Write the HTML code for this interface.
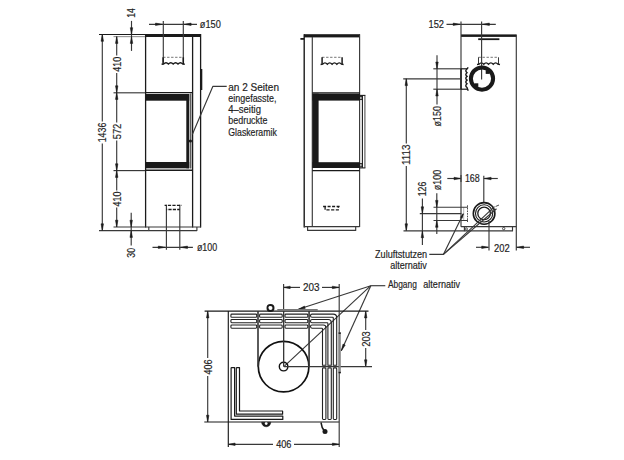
<!DOCTYPE html>
<html><head><meta charset="utf-8"><style>
html,body{margin:0;padding:0;background:#fff;}
svg{display:block;}
text{font-family:"Liberation Sans",sans-serif;fill:#1e1e1e;stroke:#1e1e1e;stroke-width:0.18px;}
</style></head><body>
<svg width="624" height="460" viewBox="0 0 624 460">
<rect width="624" height="460" fill="#fff"/>
<rect x="145" y="34" width="55.7" height="3.0" fill="#1a1a1a"/>
<line x1="145.6" y1="34" x2="145.6" y2="227.5" stroke="#1a1a1a" stroke-width="1.3" />
<line x1="192.6" y1="37" x2="192.6" y2="227.5" stroke="#1a1a1a" stroke-width="1.3" />
<line x1="200.6" y1="34" x2="200.6" y2="227.5" stroke="#1a1a1a" stroke-width="1.3" />
<line x1="113.5" y1="227" x2="201" y2="227" stroke="#383838" stroke-width="1.15" />
<polyline points="148.8,227 148.8,230.6 196.9,230.6 196.9,227" stroke="#383838" stroke-width="1.15" fill="none" stroke-linejoin="round" />
<line x1="99" y1="230.6" x2="148.8" y2="230.6" stroke="#383838" stroke-width="1.15" />
<line x1="99" y1="34.5" x2="145" y2="34.5" stroke="#1a1a1a" stroke-width="1.15" />
<line x1="113.5" y1="36.6" x2="145" y2="36.6" stroke="#999" stroke-width="1.15" />
<line x1="113.5" y1="92.8" x2="145" y2="92.8" stroke="#383838" stroke-width="1.15" />
<line x1="145" y1="92.6" x2="192.5" y2="92.6" stroke="#1a1a1a" stroke-width="1.4" />
<rect x="145.5" y="94.0" width="43.7" height="6.7" fill="#1a1a1a"/>
<rect x="186.3" y="94.0" width="3.0" height="74.3" fill="#1a1a1a"/>
<rect x="145.5" y="162" width="43.7" height="6.3" fill="#1a1a1a"/>
<line x1="113.5" y1="170.6" x2="145" y2="170.6" stroke="#383838" stroke-width="1.15" />
<line x1="145" y1="170.2" x2="192.5" y2="170.2" stroke="#1a1a1a" stroke-width="1.4" />
<line x1="190.8" y1="93.5" x2="190.8" y2="168.5" stroke="#1a1a1a" stroke-width="1.0" />
<circle cx="190.4" cy="141" r="1.6" stroke="#383838" stroke-width="0" fill="#1a1a1a"/>
<rect x="200.6" y="69" width="1.7" height="21" fill="#1a1a1a"/>
<line x1="163.3" y1="21" x2="163.3" y2="62.5" stroke="#383838" stroke-width="1.15" />
<line x1="183.3" y1="21" x2="183.3" y2="62.5" stroke="#383838" stroke-width="1.15" />
<line x1="149" y1="24.3" x2="197" y2="24.3" stroke="#383838" stroke-width="1.15" />
<polygon points="162.3,24.3 155.50,25.55 155.50,23.05" fill="#1a1a1a" stroke="#1a1a1a" stroke-width="0.5"/>
<polygon points="184.3,24.3 191.10,23.05 191.10,25.55" fill="#1a1a1a" stroke="#1a1a1a" stroke-width="0.5"/>
<text x="199.8" y="28.1" font-size="10.5" text-anchor="start" textLength="21" lengthAdjust="spacingAndGlyphs" >ø150</text>
<line x1="163.1" y1="57.3" x2="183.3" y2="57.3" stroke="#666" stroke-width="0.9" stroke-dasharray="2.4,1.6"/>
<line x1="163.1" y1="57.3" x2="163.1" y2="64" stroke="#1a1a1a" stroke-width="1.5" />
<line x1="183.3" y1="57.3" x2="183.3" y2="64" stroke="#1a1a1a" stroke-width="1.5" />
<path d="M161.6,64.3 L163.6,64 Q166.0,61.4 168.4,64 Q170.8,61.4 173.20000000000002,64 Q175.6,61.4 178.0,64 Q180.4,61.4 182.8,64 L184.8,64.3" stroke="#1a1a1a" stroke-width="1.4" fill="none" />
<line x1="166.4" y1="204.8" x2="166.4" y2="249.7" stroke="#383838" stroke-width="1.15" />
<line x1="179.8" y1="204.8" x2="179.8" y2="249.7" stroke="#383838" stroke-width="1.15" />
<line x1="164.6" y1="205.4" x2="181.8" y2="205.4" stroke="#1a1a1a" stroke-width="1.3" stroke-dasharray="2,1.3,3.2,1.3,3.2,1.3,3.2,1.3"/>
<line x1="166.4" y1="209.5" x2="179.8" y2="209.5" stroke="#1a1a1a" stroke-width="1.3" stroke-dasharray="0.8,1.2,3.2,1.2,3.2,1.2,3.2"/>
<line x1="152.5" y1="247.3" x2="192.9" y2="247.3" stroke="#383838" stroke-width="1.15" />
<polygon points="165.1,247.3 158.30,248.55 158.30,246.05" fill="#1a1a1a" stroke="#1a1a1a" stroke-width="0.5"/>
<polygon points="180.7,247.3 187.50,246.05 187.50,248.55" fill="#1a1a1a" stroke="#1a1a1a" stroke-width="0.5"/>
<text x="196.9" y="251.1" font-size="10.5" text-anchor="start" textLength="20.3" lengthAdjust="spacingAndGlyphs" >ø100</text>
<polyline points="226.7,86.4 212.8,86.4 192.3,134.5" stroke="#383838" stroke-width="1.15" fill="none" stroke-linejoin="round" />
<text x="228.3" y="91.1" font-size="10.4" text-anchor="start" textLength="50.7" lengthAdjust="spacingAndGlyphs" >an 2 Seiten</text>
<text x="228.3" y="102.19999999999999" font-size="10.4" text-anchor="start" textLength="48.2" lengthAdjust="spacingAndGlyphs" >eingefasste,</text>
<text x="228.3" y="113.3" font-size="10.4" text-anchor="start" textLength="32.7" lengthAdjust="spacingAndGlyphs" >4–seitig</text>
<text x="228.3" y="124.39999999999999" font-size="10.4" text-anchor="start" textLength="39.2" lengthAdjust="spacingAndGlyphs" >bedruckte</text>
<text x="228.3" y="135.5" font-size="10.4" text-anchor="start" textLength="48.5" lengthAdjust="spacingAndGlyphs" >Glaskeramik</text>
<line x1="102.3" y1="34.5" x2="102.3" y2="121.5" stroke="#383838" stroke-width="1.15" />
<line x1="102.3" y1="143.5" x2="102.3" y2="230.6" stroke="#383838" stroke-width="1.15" />
<polygon points="102.3,34.5 103.55,41.30 101.05,41.30" fill="#1a1a1a" stroke="#1a1a1a" stroke-width="0.5"/>
<polygon points="102.3,230.6 101.05,223.80 103.55,223.80" fill="#1a1a1a" stroke="#1a1a1a" stroke-width="0.5"/>
<text x="106.1" y="132.5" font-size="10.5" text-anchor="middle" textLength="19.6" lengthAdjust="spacingAndGlyphs" transform="rotate(-90 106.1 132.5)" >1436</text>
<line x1="116.7" y1="36.6" x2="116.7" y2="55.5" stroke="#383838" stroke-width="1.15" />
<line x1="116.7" y1="73" x2="116.7" y2="122.5" stroke="#383838" stroke-width="1.15" />
<line x1="116.7" y1="140.5" x2="116.7" y2="190.5" stroke="#383838" stroke-width="1.15" />
<line x1="116.7" y1="207.5" x2="116.7" y2="227" stroke="#383838" stroke-width="1.15" />
<polygon points="116.7,36.6 117.95,43.40 115.45,43.40" fill="#1a1a1a" stroke="#1a1a1a" stroke-width="0.5"/>
<polygon points="116.7,92.6 115.45,85.80 117.95,85.80" fill="#1a1a1a" stroke="#1a1a1a" stroke-width="0.5"/>
<polygon points="116.7,92.6 117.95,99.40 115.45,99.40" fill="#1a1a1a" stroke="#1a1a1a" stroke-width="0.5"/>
<polygon points="116.7,170.6 115.45,163.80 117.95,163.80" fill="#1a1a1a" stroke="#1a1a1a" stroke-width="0.5"/>
<polygon points="116.7,170.6 117.95,177.40 115.45,177.40" fill="#1a1a1a" stroke="#1a1a1a" stroke-width="0.5"/>
<polygon points="116.7,227 115.45,220.20 117.95,220.20" fill="#1a1a1a" stroke="#1a1a1a" stroke-width="0.5"/>
<text x="120.6" y="64.3" font-size="10.5" text-anchor="middle" textLength="15" lengthAdjust="spacingAndGlyphs" transform="rotate(-90 120.6 64.3)" >410</text>
<text x="120.6" y="131.5" font-size="10.5" text-anchor="middle" textLength="15.5" lengthAdjust="spacingAndGlyphs" transform="rotate(-90 120.6 131.5)" >572</text>
<text x="120.6" y="199" font-size="10.5" text-anchor="middle" textLength="15" lengthAdjust="spacingAndGlyphs" transform="rotate(-90 120.6 199)" >410</text>
<line x1="131.5" y1="20.9" x2="131.5" y2="50.9" stroke="#383838" stroke-width="1.15" />
<polygon points="131.5,34.5 130.25,27.70 132.75,27.70" fill="#1a1a1a" stroke="#1a1a1a" stroke-width="0.5"/>
<polygon points="131.5,36.6 132.75,43.40 130.25,43.40" fill="#1a1a1a" stroke="#1a1a1a" stroke-width="0.5"/>
<text x="135.2" y="13" font-size="10.5" text-anchor="middle" textLength="9.5" lengthAdjust="spacingAndGlyphs" transform="rotate(-90 135.2 13)" >14</text>
<line x1="131.2" y1="212.8" x2="131.2" y2="245.5" stroke="#383838" stroke-width="1.15" />
<polygon points="131.2,227 129.95,220.20 132.45,220.20" fill="#1a1a1a" stroke="#1a1a1a" stroke-width="0.5"/>
<polygon points="131.2,230.6 132.45,237.40 129.95,237.40" fill="#1a1a1a" stroke="#1a1a1a" stroke-width="0.5"/>
<text x="135" y="252.8" font-size="10.5" text-anchor="middle" textLength="9.8" lengthAdjust="spacingAndGlyphs" transform="rotate(-90 135 252.8)" >30</text>
<rect x="304" y="34.2" width="56" height="3.2" fill="#1a1a1a"/>
<line x1="304.2" y1="34.2" x2="304.2" y2="227.5" stroke="#1a1a1a" stroke-width="1.4" />
<line x1="300.4" y1="38.9" x2="304" y2="38.9" stroke="#1a1a1a" stroke-width="1.8" />
<line x1="312.3" y1="37" x2="312.3" y2="227" stroke="#383838" stroke-width="1.15" />
<line x1="359.6" y1="34.2" x2="359.6" y2="227" stroke="#383838" stroke-width="1.15" />
<line x1="304" y1="226.6" x2="359.6" y2="226.6" stroke="#383838" stroke-width="1.15" />
<polyline points="307.6,226.6 307.6,230.4 355.7,230.4 355.7,226.6" stroke="#383838" stroke-width="1.15" fill="none" stroke-linejoin="round" />
<line x1="312.3" y1="92.8" x2="359.6" y2="92.8" stroke="#1a1a1a" stroke-width="1.2" />
<rect x="312.5" y="93.6" width="47.3" height="7" fill="#1a1a1a"/>
<rect x="312.5" y="93.6" width="6.1" height="74.4" fill="#1a1a1a"/>
<rect x="312.5" y="162.2" width="47.3" height="5.8" fill="#1a1a1a"/>
<line x1="312.3" y1="170.6" x2="359.6" y2="170.6" stroke="#1a1a1a" stroke-width="1.2" />
<line x1="362.4" y1="95.6" x2="362.4" y2="167.8" stroke="#1a1a1a" stroke-width="1.1" />
<line x1="364.9" y1="95.6" x2="364.9" y2="167.8" stroke="#555" stroke-width="1.1" />
<line x1="359.6" y1="95.4" x2="365.4" y2="95.4" stroke="#1a1a1a" stroke-width="1.1" />
<line x1="359.6" y1="167.9" x2="365.4" y2="167.9" stroke="#1a1a1a" stroke-width="1.1" />
<rect x="359.8" y="96.4" width="2.2" height="3.2" stroke="#1a1a1a" stroke-width="0.9" fill="none" rx="0"/>
<rect x="359.8" y="163.6" width="2.2" height="3.2" stroke="#1a1a1a" stroke-width="0.9" fill="none" rx="0"/>
<line x1="322.1" y1="57.3" x2="342.1" y2="57.3" stroke="#666" stroke-width="0.9" stroke-dasharray="2.4,1.6"/>
<line x1="322.1" y1="57.3" x2="322.1" y2="64.2" stroke="#1a1a1a" stroke-width="1.5" />
<line x1="342.1" y1="57.3" x2="342.1" y2="64.2" stroke="#1a1a1a" stroke-width="1.5" />
<path d="M320.6,64.5 L322.6,64.2 Q324.975,61.6 327.35,64.2 Q329.725,61.6 332.1,64.2 Q334.475,61.6 336.85,64.2 Q339.225,61.6 341.6,64.2 L343.6,64.5" stroke="#1a1a1a" stroke-width="1.4" fill="none" />
<line x1="323.1" y1="206.5" x2="340.3" y2="206.5" stroke="#1a1a1a" stroke-width="1.3" stroke-dasharray="3,1.5"/>
<polyline points="325.1,206.5 325.1,209.9 338.3,209.9 338.3,206.5" stroke="#1a1a1a" stroke-width="1.3" fill="none" stroke-linejoin="round" stroke-dasharray="3.2,1.5"/>
<rect x="461" y="34.4" width="55.5" height="2.5" fill="#1a1a1a"/>
<line x1="461" y1="21.6" x2="461" y2="226.8" stroke="#383838" stroke-width="1.15" />
<line x1="516.3" y1="34.7" x2="516.3" y2="250.5" stroke="#383838" stroke-width="1.15" />
<line x1="461" y1="226.6" x2="516.3" y2="226.6" stroke="#383838" stroke-width="1.15" />
<polyline points="464.4,226.6 464.4,230.9 512.5,230.9 512.5,226.6" stroke="#383838" stroke-width="1.15" fill="none" stroke-linejoin="round" />
<circle cx="466.2" cy="229" r="1.2" stroke="#383838" stroke-width="0.9" fill="none"/>
<circle cx="503.7" cy="228.6" r="1.2" stroke="#383838" stroke-width="0.9" fill="none"/>
<line x1="403.5" y1="230.9" x2="464.4" y2="230.9" stroke="#383838" stroke-width="1.15" />
<rect x="478.2" y="38.3" width="21.2" height="1.8" fill="#1a1a1a"/>
<line x1="478.5" y1="57.3" x2="498.5" y2="57.3" stroke="#666" stroke-width="0.9" stroke-dasharray="2.4,1.6"/>
<line x1="478.5" y1="57.3" x2="478.5" y2="64.2" stroke="#383838" stroke-width="1.0" />
<line x1="498.5" y1="57.3" x2="498.5" y2="64.2" stroke="#383838" stroke-width="1.0" />
<path d="M477.0,64.5 L479.0,64.2 Q481.375,61.6 483.75,64.2 Q486.125,61.6 488.5,64.2 Q490.875,61.6 493.25,64.2 Q495.625,61.6 498.0,64.2 L500.0,64.5" stroke="#1a1a1a" stroke-width="1.4" fill="none" />
<line x1="481.6" y1="21.6" x2="481.6" y2="79.4" stroke="#383838" stroke-width="1.15" />
<line x1="446.5" y1="24.3" x2="495.8" y2="24.3" stroke="#383838" stroke-width="1.15" />
<polygon points="460,24.3 453.20,25.55 453.20,23.05" fill="#1a1a1a" stroke="#1a1a1a" stroke-width="0.5"/>
<polygon points="482.6,24.3 489.40,23.05 489.40,25.55" fill="#1a1a1a" stroke="#1a1a1a" stroke-width="0.5"/>
<text x="428.5" y="28.3" font-size="10.5" text-anchor="start" textLength="15.5" lengthAdjust="spacingAndGlyphs" >152</text>
<circle cx="482" cy="78.6" r="11.1" stroke="#1a1a1a" stroke-width="4.0" fill="none"/>
<rect x="485.7" y="70.3" width="3.6" height="3.6" fill="#1a1a1a"/>
<rect x="474.7" y="83.3" width="3.6" height="3.6" fill="#1a1a1a"/>
<line x1="460.6" y1="68.8" x2="467" y2="68.8" stroke="#1a1a1a" stroke-width="1.2" />
<line x1="460.6" y1="89.2" x2="467" y2="89.2" stroke="#1a1a1a" stroke-width="1.2" />
<line x1="461" y1="68.8" x2="461" y2="89.2" stroke="#1a1a1a" stroke-width="1.5" />
<path d="M468.2,67.3 L467,69 Q464.6,70.85 467,72.7 Q464.6,74.55 467,76.4 Q464.6,78.25 467,80.10000000000001 Q464.6,81.94999999999999 467,83.8 Q464.6,85.64999999999999 467,87.5 L468.2,90.7" stroke="#1a1a1a" stroke-width="1.4" fill="none" />
<line x1="433.3" y1="68.8" x2="461" y2="68.8" stroke="#383838" stroke-width="1.15" />
<line x1="433.3" y1="89.2" x2="461" y2="89.2" stroke="#383838" stroke-width="1.15" />
<line x1="403.2" y1="78.8" x2="461" y2="78.8" stroke="#383838" stroke-width="1.15" />
<line x1="437" y1="55.3" x2="437" y2="104.5" stroke="#383838" stroke-width="1.15" />
<polygon points="437,68.8 435.75,62.00 438.25,62.00" fill="#1a1a1a" stroke="#1a1a1a" stroke-width="0.5"/>
<polygon points="437,89.2 438.25,96.00 435.75,96.00" fill="#1a1a1a" stroke="#1a1a1a" stroke-width="0.5"/>
<text x="440.8" y="116.2" font-size="10.5" text-anchor="middle" textLength="20.4" lengthAdjust="spacingAndGlyphs" transform="rotate(-90 440.8 116.2)" >ø150</text>
<line x1="406.3" y1="78.8" x2="406.3" y2="143.5" stroke="#383838" stroke-width="1.15" />
<line x1="406.3" y1="166" x2="406.3" y2="230.6" stroke="#383838" stroke-width="1.15" />
<polygon points="406.3,78.8 407.55,85.60 405.05,85.60" fill="#1a1a1a" stroke="#1a1a1a" stroke-width="0.5"/>
<polygon points="406.3,230.6 405.05,223.80 407.55,223.80" fill="#1a1a1a" stroke="#1a1a1a" stroke-width="0.5"/>
<text x="410.4" y="154.8" font-size="10.5" text-anchor="middle" textLength="20.5" lengthAdjust="spacingAndGlyphs" transform="rotate(-90 410.4 154.8)" >1113</text>
<line x1="447.3" y1="178.5" x2="460.8" y2="178.5" stroke="#383838" stroke-width="1.15" />
<line x1="483.8" y1="178.5" x2="497.8" y2="178.5" stroke="#383838" stroke-width="1.15" />
<polygon points="460.8,178.5 454.00,179.75 454.00,177.25" fill="#1a1a1a" stroke="#1a1a1a" stroke-width="0.5"/>
<polygon points="484.3,178.5 491.10,177.25 491.10,179.75" fill="#1a1a1a" stroke="#1a1a1a" stroke-width="0.5"/>
<text x="464.9" y="182.3" font-size="10.5" text-anchor="start" textLength="14.9" lengthAdjust="spacingAndGlyphs" >168</text>
<line x1="461" y1="175" x2="461" y2="182" stroke="#383838" stroke-width="1.15" />
<line x1="483.8" y1="175.7" x2="483.8" y2="203" stroke="#383838" stroke-width="1.15" />
<circle cx="484.1" cy="213.4" r="10.8" stroke="#1a1a1a" stroke-width="1.6" fill="none"/>
<circle cx="484.1" cy="213.4" r="8.6" stroke="#1a1a1a" stroke-width="1.1" fill="none"/>
<circle cx="484.1" cy="213.4" r="6.3" stroke="#1a1a1a" stroke-width="1.3" fill="none"/>
<line x1="467.5" y1="205.3" x2="467.5" y2="222" stroke="#383838" stroke-width="0.9" stroke-dasharray="1.6,1"/>
<line x1="463.7" y1="207.2" x2="463.7" y2="220.5" stroke="#999" stroke-width="0.7" />
<line x1="433.5" y1="207.2" x2="467.9" y2="207.2" stroke="#383838" stroke-width="1.15" />
<line x1="433.5" y1="220.5" x2="467.9" y2="220.5" stroke="#383838" stroke-width="1.15" />
<line x1="419.8" y1="213.6" x2="461.4" y2="213.6" stroke="#383838" stroke-width="1.15" />
<line x1="436.8" y1="193.3" x2="436.8" y2="234" stroke="#383838" stroke-width="1.15" />
<polygon points="436.8,207.2 435.55,200.40 438.05,200.40" fill="#1a1a1a" stroke="#1a1a1a" stroke-width="0.5"/>
<polygon points="436.8,220.5 438.05,227.30 435.55,227.30" fill="#1a1a1a" stroke="#1a1a1a" stroke-width="0.5"/>
<text x="440.6" y="180" font-size="10.5" text-anchor="middle" textLength="20.4" lengthAdjust="spacingAndGlyphs" transform="rotate(-90 440.6 180)" >ø100</text>
<line x1="422.4" y1="198.5" x2="422.4" y2="245" stroke="#383838" stroke-width="1.15" />
<polygon points="422.4,213.6 421.15,206.80 423.65,206.80" fill="#1a1a1a" stroke="#1a1a1a" stroke-width="0.5"/>
<polygon points="422.4,230.9 423.65,237.70 421.15,237.70" fill="#1a1a1a" stroke="#1a1a1a" stroke-width="0.5"/>
<text x="426.3" y="189" font-size="10.5" text-anchor="middle" textLength="14.5" lengthAdjust="spacingAndGlyphs" transform="rotate(-90 426.3 189)" >126</text>
<line x1="476" y1="247.3" x2="488.5" y2="247.3" stroke="#383838" stroke-width="1.15" />
<line x1="516.3" y1="247.3" x2="530" y2="247.3" stroke="#383838" stroke-width="1.15" />
<polygon points="488.5,247.3 481.70,248.55 481.70,246.05" fill="#1a1a1a" stroke="#1a1a1a" stroke-width="0.5"/>
<polygon points="516.8,247.3 523.60,246.05 523.60,248.55" fill="#1a1a1a" stroke="#1a1a1a" stroke-width="0.5"/>
<line x1="489" y1="221" x2="489" y2="250.5" stroke="#383838" stroke-width="1.15" />
<text x="494" y="251.6" font-size="10.5" text-anchor="start" textLength="15.7" lengthAdjust="spacingAndGlyphs" >202</text>
<polyline points="429.3,254.4 443.4,254.4 463.3,213.7" stroke="#383838" stroke-width="1.15" fill="none" stroke-linejoin="round" />
<polygon points="463.3,213.7 462.22,218.18 460.43,217.30" fill="#1a1a1a" stroke="#1a1a1a" stroke-width="0.5"/>
<line x1="443.4" y1="254.4" x2="494.5" y2="206.6" stroke="#383838" stroke-width="1.15" />
<line x1="443.4" y1="254.4" x2="496.5" y2="208.8" stroke="#383838" stroke-width="1.15" />
<line x1="495.6" y1="206.5" x2="499" y2="205" stroke="#383838" stroke-width="0.9" />
<text x="375" y="258.2" font-size="10.4" text-anchor="start" textLength="52.2" lengthAdjust="spacingAndGlyphs" >Zuluftstutzen</text>
<text x="390.2" y="269.4" font-size="10.4" text-anchor="start" textLength="36.7" lengthAdjust="spacingAndGlyphs" >alternativ</text>
<text x="387.9" y="288.1" font-size="10.4" text-anchor="start" textLength="28.9" lengthAdjust="spacingAndGlyphs" >Abgang</text>
<text x="423.3" y="288.1" font-size="10.4" text-anchor="start" textLength="36.8" lengthAdjust="spacingAndGlyphs" >alternativ</text>
<polyline points="385.3,285.7 370.8,285.7" stroke="#383838" stroke-width="1.15" fill="none" stroke-linejoin="round" />
<line x1="370.8" y1="285.7" x2="298.4" y2="309.3" stroke="#383838" stroke-width="1.15" />
<polygon points="298.4,309.3 304.48,306.00 305.25,308.38" fill="#1a1a1a" stroke="#1a1a1a" stroke-width="0.5"/>
<line x1="370.8" y1="285.7" x2="284.4" y2="366.1" stroke="#383838" stroke-width="1.15" />
<line x1="370.8" y1="285.7" x2="341.3" y2="350.8" stroke="#383838" stroke-width="1.15" />
<polygon points="341.3,350.8 342.97,344.09 345.25,345.12" fill="#1a1a1a" stroke="#1a1a1a" stroke-width="0.5"/>
<line x1="204.6" y1="311.1" x2="368.5" y2="311.1" stroke="#1a1a1a" stroke-width="1.15" />
<line x1="204.3" y1="422" x2="339.2" y2="422" stroke="#1a1a1a" stroke-width="1.15" />
<line x1="228.3" y1="311.1" x2="228.3" y2="447" stroke="#1a1a1a" stroke-width="1.15" />
<line x1="339.2" y1="284" x2="339.2" y2="447" stroke="#383838" stroke-width="1.15" />
<line x1="207.7" y1="311.1" x2="207.7" y2="358" stroke="#383838" stroke-width="1.15" />
<line x1="207.7" y1="376" x2="207.7" y2="422" stroke="#383838" stroke-width="1.15" />
<polygon points="207.7,311.1 208.95,317.90 206.45,317.90" fill="#1a1a1a" stroke="#1a1a1a" stroke-width="0.5"/>
<polygon points="207.7,422 206.45,415.20 208.95,415.20" fill="#1a1a1a" stroke="#1a1a1a" stroke-width="0.5"/>
<text x="211.6" y="367" font-size="10.5" text-anchor="middle" textLength="15" lengthAdjust="spacingAndGlyphs" transform="rotate(-90 211.6 367)" >406</text>
<line x1="228.3" y1="444.3" x2="273" y2="444.3" stroke="#383838" stroke-width="1.15" />
<line x1="294" y1="444.3" x2="339.2" y2="444.3" stroke="#383838" stroke-width="1.15" />
<polygon points="228.3,444.3 235.10,443.05 235.10,445.55" fill="#1a1a1a" stroke="#1a1a1a" stroke-width="0.5"/>
<polygon points="339.2,444.3 332.40,445.55 332.40,443.05" fill="#1a1a1a" stroke="#1a1a1a" stroke-width="0.5"/>
<text x="283.8" y="448.1" font-size="10.5" text-anchor="middle" textLength="15.3" lengthAdjust="spacingAndGlyphs" >406</text>
<line x1="283.4" y1="287.4" x2="300" y2="287.4" stroke="#383838" stroke-width="1.15" />
<line x1="322" y1="287.4" x2="339.1" y2="287.4" stroke="#383838" stroke-width="1.15" />
<polygon points="283.4,287.4 290.20,286.15 290.20,288.65" fill="#1a1a1a" stroke="#1a1a1a" stroke-width="0.5"/>
<polygon points="339.1,287.4 332.30,288.65 332.30,286.15" fill="#1a1a1a" stroke="#1a1a1a" stroke-width="0.5"/>
<line x1="283.6" y1="284" x2="283.6" y2="366.6" stroke="#383838" stroke-width="1.15" />
<text x="311.3" y="291.4" font-size="10.5" text-anchor="middle" textLength="16.6" lengthAdjust="spacingAndGlyphs" >203</text>
<line x1="365.7" y1="311.1" x2="365.7" y2="330" stroke="#383838" stroke-width="1.15" />
<line x1="365.7" y1="348" x2="365.7" y2="366.6" stroke="#383838" stroke-width="1.15" />
<polygon points="365.7,311.1 366.95,317.90 364.45,317.90" fill="#1a1a1a" stroke="#1a1a1a" stroke-width="0.5"/>
<polygon points="365.7,366.6 364.45,359.80 366.95,359.80" fill="#1a1a1a" stroke="#1a1a1a" stroke-width="0.5"/>
<text x="369.6" y="339" font-size="10.5" text-anchor="middle" textLength="15.6" lengthAdjust="spacingAndGlyphs" transform="rotate(-90 369.6 339)" >203</text>
<circle cx="283.6" cy="366.6" r="25.3" stroke="#111" stroke-width="1.7" fill="none"/>
<circle cx="283.6" cy="366.6" r="4.3" stroke="#111" stroke-width="1.4" fill="none"/>
<line x1="258" y1="311.1" x2="258" y2="366.6" stroke="#383838" stroke-width="1.15" />
<line x1="309.1" y1="311.1" x2="309.1" y2="366.6" stroke="#383838" stroke-width="1.15" />
<rect x="277.3" y="309" width="40.4" height="2" fill="#777"/>
<circle cx="270.5" cy="307.9" r="3.0" stroke="#1a1a1a" stroke-width="2.0" fill="none"/>
<circle cx="269.5" cy="307.2" r="0.9" stroke="#383838" stroke-width="0" fill="#fff"/>
<rect x="230.9" y="314.1" width="25.799999999999983" height="3.2" stroke="#222" stroke-width="1.1" fill="none" rx="0.9"/>
<rect x="259.6" y="314.1" width="22.599999999999966" height="3.2" stroke="#222" stroke-width="1.1" fill="none" rx="0.9"/>
<rect x="285.0" y="314.1" width="22.80000000000001" height="3.2" stroke="#222" stroke-width="1.1" fill="none" rx="0.9"/>
<path d="M312.0,314.1 H333.2 Q336.7,314.1 336.7,317.6 V365.3 H333.3 V318.1 Q333.3,317.3 332.5,317.3 H312.0 Q310.5,317.3 310.5,315.70000000000005 Q310.5,314.1 312.0,314.1 Z" stroke="#222" stroke-width="1.1" fill="none" />
<rect x="333.3" y="367.9" width="3.4" height="51.60000000000002" stroke="#222" stroke-width="1.1" fill="none" rx="0.9"/>
<rect x="230.9" y="319.55" width="25.799999999999983" height="3.2" stroke="#222" stroke-width="1.1" fill="none" rx="0.9"/>
<rect x="259.6" y="319.55" width="22.599999999999966" height="3.2" stroke="#222" stroke-width="1.1" fill="none" rx="0.9"/>
<rect x="285.0" y="319.55" width="22.80000000000001" height="3.2" stroke="#222" stroke-width="1.1" fill="none" rx="0.9"/>
<path d="M312.0,319.55 H328.3 Q331.3,319.55 331.3,322.55 V365.3 H327.90000000000003 V323.55 Q327.90000000000003,322.75 327.1,322.75 H312.0 Q310.5,322.75 310.5,321.15000000000003 Q310.5,319.55 312.0,319.55 Z" stroke="#222" stroke-width="1.1" fill="none" />
<rect x="327.90000000000003" y="367.9" width="3.4" height="51.60000000000002" stroke="#222" stroke-width="1.1" fill="none" rx="0.9"/>
<rect x="230.9" y="325.0" width="25.799999999999983" height="3.2" stroke="#222" stroke-width="1.1" fill="none" rx="0.9"/>
<rect x="259.6" y="325.0" width="22.599999999999966" height="3.2" stroke="#222" stroke-width="1.1" fill="none" rx="0.9"/>
<rect x="285.0" y="325.0" width="22.80000000000001" height="3.2" stroke="#222" stroke-width="1.1" fill="none" rx="0.9"/>
<path d="M312.0,325.0 H323.4 Q325.9,325.0 325.9,327.5 V365.3 H322.5 V329.0 Q322.5,328.2 321.7,328.2 H312.0 Q310.5,328.2 310.5,326.6 Q310.5,325.0 312.0,325.0 Z" stroke="#222" stroke-width="1.1" fill="none" />
<rect x="322.5" y="367.9" width="3.4" height="51.60000000000002" stroke="#222" stroke-width="1.1" fill="none" rx="0.9"/>
<line x1="258" y1="311.1" x2="258" y2="366.6" stroke="#383838" stroke-width="1.15" />
<line x1="309.1" y1="311.1" x2="309.1" y2="366.6" stroke="#383838" stroke-width="1.15" />
<line x1="283.6" y1="311.1" x2="283.6" y2="366.6" stroke="#383838" stroke-width="1.15" />
<line x1="284" y1="366.6" x2="372" y2="366.6" stroke="#383838" stroke-width="1.15" />
<rect x="338.6" y="332.4" width="2.2" height="40.8" fill="#888"/>
<rect x="338.6" y="332.4" width="2.2" height="1.5" fill="#1a1a1a"/>
<rect x="338.6" y="371.8" width="2.2" height="1.5" fill="#1a1a1a"/>
<polyline points="231.1,367.6 231.1,419.4 282.8,419.4 282.8,416.1 234.6,416.1 234.6,367.6 231.1,367.6" stroke="#1a1a1a" stroke-width="1.2" fill="none" stroke-linejoin="round" />
<polyline points="236.3,367.6 236.3,414.2 282.6,414.2 282.6,411 239.5,411 239.5,367.6 236.3,367.6" stroke="#1a1a1a" stroke-width="1.2" fill="none" stroke-linejoin="round" />
<path d="M261.6,422.2 A4.6,4.6 0 0 0 270.8,422.2 Z" stroke="#1a1a1a" stroke-width="0.5" fill="#1a1a1a" />
<circle cx="266.2" cy="423.6" r="1.4" stroke="#383838" stroke-width="0" fill="#fff"/>
<polyline points="321,422.5 322.2,427.5 324,430.5" stroke="#1a1a1a" stroke-width="1.5" fill="none" stroke-linejoin="round" />
<circle cx="325" cy="431.5" r="2.5" stroke="#383838" stroke-width="0" fill="#1a1a1a"/>
</svg>
</body></html>
